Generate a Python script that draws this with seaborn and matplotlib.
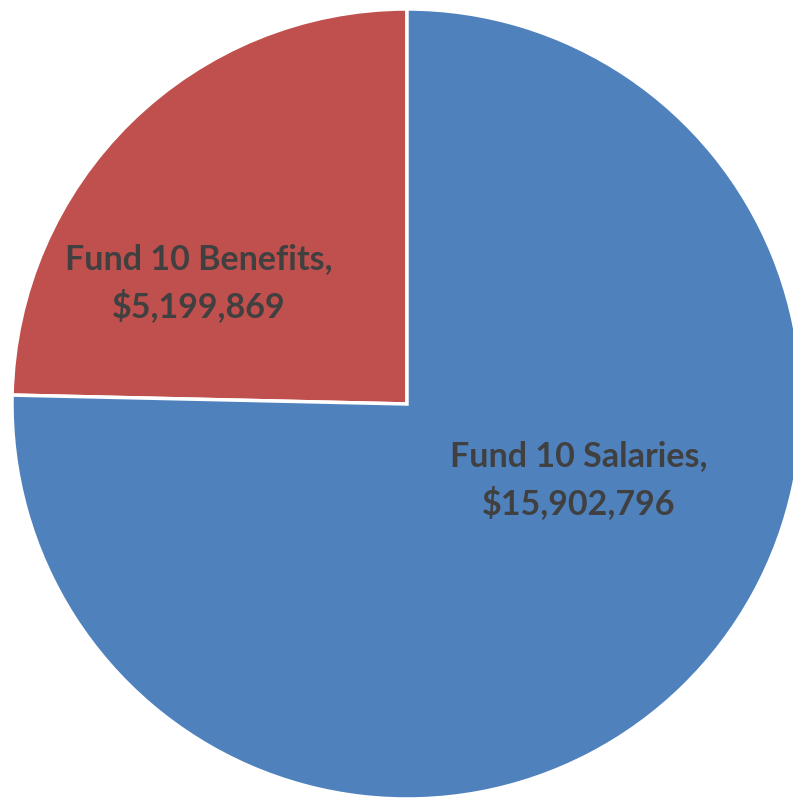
import matplotlib
matplotlib.use("Agg")
import matplotlib.pyplot as plt
import seaborn as sns

categories = ["Fund 10 Benefits", "Fund 10 Salaries"]
values = [5199869, 15902796]
colors = ["#C0504D", "#4F81BD"]

sns.set_theme(style="white")
plt.rcParams["font.family"] = ["Lato", "DejaVu Sans"]

W, H = 793, 799
fig = plt.figure(figsize=(W / 100, H / 100), dpi=100)
ax = fig.add_axes([0, 0, 1, 1])

cx, cy, r = 407, H - 404, 395
ax.pie(values, colors=colors, startangle=90, counterclock=True,
       center=(cx, cy), radius=r, frame=True,
       wedgeprops=dict(edgecolor="white", linewidth=2.5))
ax.set_xlim(0, W)
ax.set_ylim(0, H)
ax.set_aspect("equal")
ax.axis("off")

label_pos = [(199, H - 283), (579, H - 480)]
for cat, val, (x, y) in zip(categories, values, label_pos):
    ax.text(x, y, f"{cat},\n${val:,.0f}", ha="center", va="center",
            multialignment="center", fontsize=24.5, fontweight="bold",
            color="#404040", linespacing=1.48)

fig.savefig("out.png", dpi=100)
